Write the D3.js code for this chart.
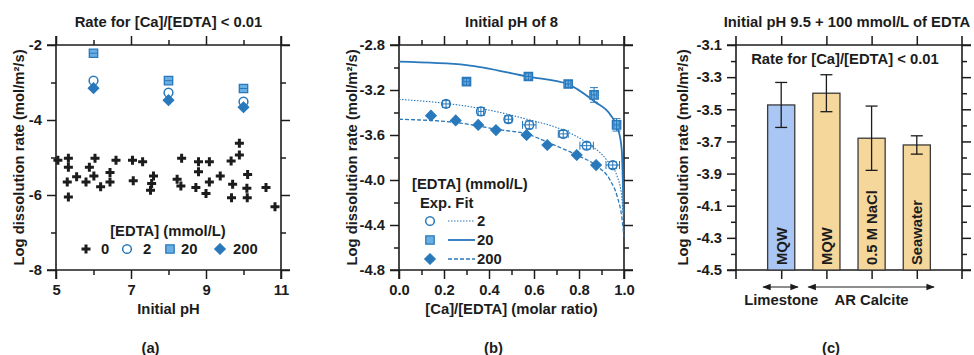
<!DOCTYPE html>
<html>
<head>
<meta charset="utf-8">
<script src="https://cdn.jsdelivr.net/npm/d3@7"></script>
<style>
body { margin: 0; background: #fff; }
text { font-family: "Liberation Sans", Arial, sans-serif; font-weight: bold; font-size: 14.8px; fill: #1c1c1c; }
</style>
</head>
<body>
<script>
var W = 974, H = 355;
var ink = "#1c1c1c";
var blue = "#2878bb";
var blueFill = "#6aaee2";

// ---- panel (a): rate vs initial pH
var phZero = [5.05, 5.33, 5.33, 5.30, 5.33, 5.55, 5.80, 5.89, 6.04, 6.01, 6.19, 6.44, 6.44, 6.60,
              7.04, 7.31, 7.06, 7.60, 7.55, 7.52, 8.35, 8.23, 8.33, 8.80, 9.09, 8.80, 8.73, 9.00,
              9.09, 9.38, 9.67, 9.89, 9.89, 9.71, 9.68, 10.11, 10.09, 10.10, 10.60, 10.84];
var rateZero = [-5.07, -5.02, -5.26, -5.65, -6.05, -5.51, -5.65, -5.26, -5.02, -5.49, -5.78, -5.40, -5.65, -5.07,
                -5.07, -5.11, -5.62, -5.49, -5.69, -5.87, -5.02, -5.58, -5.76, -5.11, -5.11, -5.38, -5.80, -5.96,
                -5.65, -5.49, -5.09, -4.93, -4.62, -5.71, -6.07, -5.45, -5.82, -6.07, -5.80, -6.31];
var phEdta = [6, 8, 10];
var rateEdta2 = [-2.95, -3.27, -3.51];
var rateEdta20 = [-2.22, -2.95, -3.16];
var rateEdta200 = [-3.15, -3.47, -3.66];
var edtaLegend = ["0", "2", "20", "200"];

// ---- panel (b): rate vs [Ca]/[EDTA] at pH 8
var ratio2 = [0.209, 0.364, 0.486, 0.579, 0.730, 0.834, 0.950];
var rate2 = [-3.324, -3.39, -3.46, -3.51, -3.59, -3.695, -3.867];
var ratio2Err = [0.015, 0.012, 0.015, 0.03, 0.022, 0.03, 0.03];
var rate2Err = [0.03, 0.035, 0.03, 0.035, 0.03, 0.03, 0.03];
var ratio20 = [0.30, 0.575, 0.752, 0.867, 0.967];
var rate20 = [-3.126, -3.08, -3.147, -3.244, -3.51];
var rate20Err = [0.03, 0.03, 0.03, 0.065, 0.055];
var ratio200 = [0.142, 0.252, 0.352, 0.431, 0.567, 0.659, 0.790, 0.876];
var rate200 = [-3.428, -3.47, -3.51, -3.556, -3.60, -3.689, -3.778, -3.867];
var fitX2 = [0, 0.204, 0.36, 0.582, 0.73, 0.834, 0.923, 0.97, 0.99, 1.0];
var fitY2 = [-3.283, -3.318, -3.363, -3.467, -3.556, -3.668, -3.822, -3.97, -4.148, -4.415];
var fitX20 = [0, 0.3, 0.575, 0.75, 0.87, 0.94, 0.975, 0.99, 0.998];
var fitY20 = [-2.948, -2.978, -3.082, -3.147, -3.304, -3.422, -3.556, -3.733, -4.30];
var fitX200 = [0, 0.256, 0.434, 0.582, 0.671, 0.79, 0.879, 0.938, 0.97, 0.99, 1.0];
var fitY200 = [-3.46, -3.49, -3.549, -3.60, -3.674, -3.778, -3.876, -4.0, -4.148, -4.326, -4.504];

// ---- panel (c): pH 9.5 + 100 mmol/L EDTA
var waterLabels = ["MQW", "MQW", "0.5 M NaCl", "Seawater"];
var solidType = ["Limestone", "AR Calcite", "AR Calcite", "AR Calcite"];
var rateC = [-3.473, -3.40, -3.68, -3.722];
var errC = [0.14, 0.115, 0.20, 0.057];
var solidNames = ["Limestone", "AR Calcite"];
var solidSpan = [[0.6, 1.37], [1.6, 4.38]];

var svg = d3.select("body").append("svg")
    .attr("width", W)
    .attr("height", H);

var defs = svg.append("defs");
defs.append("marker")
    .attr("id", "arr")
    .attr("viewBox", "0 0 10 10")
    .attr("refX", 9).attr("refY", 5)
    .attr("markerWidth", 7).attr("markerHeight", 7)
    .attr("orient", "auto-start-reverse")
    .append("path").attr("d", "M0,1L10,5L0,9z").attr("fill", ink);

// draws the four-sided frame with outward ticks
function frame(x, y, o) {
    var ext = 9;
    var xr = x.range(), yr = y.range();
    var g = svg.append("g");
    function ticks(gen, tr, vals, size, fmt) {
        var a = g.append("g").attr("transform", tr)
            .call(gen.tickValues(vals).tickSize(size).tickSizeOuter(0).tickPadding(5).tickFormat(fmt || ""));
        a.select(".domain").remove();
        a.selectAll("line").attr("stroke", ink).attr("stroke-width", 1.5);
        return a;
    }
    var bt = "translate(0," + yr[0] + ")", tt = "translate(0," + yr[1] + ")";
    var lt = "translate(" + xr[0] + ",0)", rt = "translate(" + xr[1] + ",0)";
    ticks(d3.axisBottom(x), bt, o.xMajor, 9, o.xFmt);
    ticks(d3.axisTop(x), tt, o.xMajor, 9);
    if (o.xMinor) {
        ticks(d3.axisBottom(x), bt, o.xMinor, 5);
        ticks(d3.axisTop(x), tt, o.xMinor, 5);
    }
    ticks(d3.axisLeft(y), lt, o.yMajor, 9, o.yFmt);
    ticks(d3.axisRight(y), rt, o.yMajor, 9);
    ticks(d3.axisLeft(y), lt, o.yMinor, 5);
    ticks(d3.axisRight(y), rt, o.yMinor, 5);
    var ln = [
        [xr[0] - ext, yr[0], xr[1] + ext, yr[0]],
        [xr[0] - ext, yr[1], xr[1] + ext, yr[1]],
        [xr[0], yr[0] + ext, xr[0], yr[1] - ext],
        [xr[1], yr[0] + ext, xr[1], yr[1] - ext]
    ];
    g.selectAll("line.frame").data(ln).enter().append("line")
        .attr("class", "frame")
        .attr("x1", d => d[0]).attr("y1", d => d[1])
        .attr("x2", d => d[2]).attr("y2", d => d[3])
        .attr("stroke", ink).attr("stroke-width", 1.6);
    // titles
    var cx = (xr[0] + xr[1]) / 2;
    svg.append("text").attr("x", o.titleX || cx).attr("y", 27).attr("text-anchor", "middle").text(o.title);
    svg.append("text").attr("x", cx).attr("y", 314).attr("text-anchor", "middle").text(o.xLabel);
    svg.append("text").attr("x", cx - 18).attr("y", 353).attr("text-anchor", "middle").text(o.tag);
    svg.append("text")
        .attr("transform", "translate(" + o.yLabelX + "," + ((yr[0] + yr[1]) / 2) + ") rotate(-90)")
        .attr("text-anchor", "middle")
        .attr("dy", "0.35em")
        .text("Log dissolution rate (mol/m\u00b2/s)");
}

function errorBars(g, pts) {
    var cap = 4;
    var segs = [];
    pts.forEach(function(p) {
        if (p.ex) {
            segs.push([p.x0, p.y, p.x1, p.y]);
            segs.push([p.x0, p.y - cap, p.x0, p.y + cap]);
            segs.push([p.x1, p.y - cap, p.x1, p.y + cap]);
        }
        if (p.ey) {
            segs.push([p.x, p.y0, p.x, p.y1]);
            segs.push([p.x - cap, p.y0, p.x + cap, p.y0]);
            segs.push([p.x - cap, p.y1, p.x + cap, p.y1]);
        }
    });
    g.selectAll(null).data(segs).enter().append("line")
        .attr("x1", d => d[0]).attr("y1", d => d[1])
        .attr("x2", d => d[2]).attr("y2", d => d[3])
        .attr("stroke", blue).attr("stroke-width", 1);
}

var symCross = d3.symbol().type(d3.symbolCross).size(45);
var symCircle = d3.symbol().type(d3.symbolCircle).size(60);
var symSquare = d3.symbol().type(d3.symbolSquare).size(70);
var symDiamond = d3.symbol().type(d3.symbolSquare).size(58); // rotated below

function marker(g, sym, kind, px, py) {
    var tr = "translate(" + px + "," + py + ")" + (kind == "diamond" ? " rotate(45)" : "");
    var p = g.append("path").attr("d", sym()).attr("transform", tr);
    if (kind == "cross") p.attr("fill", ink);
    if (kind == "circle") p.attr("fill", "#fff").attr("stroke", blue).attr("stroke-width", 1.5);
    if (kind == "square") p.attr("fill", blueFill).attr("stroke", blue).attr("stroke-width", 1.3);
    if (kind == "diamond") p.attr("fill", blue).attr("stroke", blue).attr("stroke-width", 1);
    return p;
}

// ================= (a)
var xa = d3.scaleLinear().domain([5, 11]).range([56, 281]);
var ya = d3.scaleLinear().domain([-8, -2]).range([270, 45]);
frame(xa, ya, {
    xMajor: [5, 7, 9, 11], xMinor: [6, 8, 10], xFmt: d3.format("d"),
    yMajor: [-2, -4, -6, -8], yMinor: [-3, -5, -7], yFmt: d => d3.format("d")(d).replace("\u2212", "-"),
    title: "Rate for [Ca]/[EDTA] < 0.01", xLabel: "Initial pH", tag: "(a)", yLabelX: 19
});
var ga = svg.append("g");
phZero.forEach(function(p, i) { marker(ga, symCross, "cross", xa(p), ya(rateZero[i])); });
phEdta.forEach(function(p, i) {
    marker(ga, symCircle, "circle", xa(p), ya(rateEdta2[i]));
    marker(ga, symSquare, "square", xa(p), ya(rateEdta20[i]));
    ga.append("line").attr("x1", xa(p) - 4).attr("x2", xa(p) + 4)
        .attr("y1", ya(rateEdta20[i])).attr("y2", ya(rateEdta20[i]))
        .attr("stroke", blue).attr("stroke-width", 1);
    marker(ga, symDiamond, "diamond", xa(p), ya(rateEdta200[i]));
});
// legend (a)
svg.append("text").attr("x", 168).attr("y", 236).attr("text-anchor", "middle").text("[EDTA] (mmol/L)");
var legA = [[86, "cross", symCross], [127, "circle", symCircle], [170, "square", symSquare], [220, "diamond", symDiamond]];
var legAText = [101, 143, 181, 233];
edtaLegend.forEach(function(t, i) {
    marker(svg, legA[i][2], legA[i][1], legA[i][0], 249);
    svg.append("text").attr("x", legAText[i]).attr("y", 254).text(t);
});

// ================= (b)
var xb = d3.scaleLinear().domain([0, 1]).range([399, 624]);
var yb = d3.scaleLinear().domain([-4.8, -2.8]).range([270, 45]);
frame(xb, yb, {
    xMajor: [0, 0.2, 0.4, 0.6, 0.8, 1.0], xMinor: [0.1, 0.3, 0.5, 0.7, 0.9], xFmt: d3.format(".1f"),
    yMajor: [-2.8, -3.2, -3.6, -4.0, -4.4, -4.8], yMinor: [-3.0, -3.4, -3.8, -4.2, -4.6],
    yFmt: d => d3.format(".1f")(d).replace("\u2212", "-"),
    title: "Initial pH of 8", xLabel: "[Ca]/[EDTA] (molar ratio)", tag: "(b)", yLabelX: 352
});
var gb = svg.append("g");
var line = d3.line().x(d => xb(d[0])).y(d => yb(d[1])).curve(d3.curveMonotoneX);
gb.append("path").attr("d", line(d3.zip(fitX2, fitY2))).attr("fill", "none")
    .attr("stroke", blue).attr("stroke-width", 1.1).attr("stroke-dasharray", "1.5,1.5");
gb.append("path").attr("d", line(d3.zip(fitX20, fitY20))).attr("fill", "none")
    .attr("stroke", blue).attr("stroke-width", 1.8);
gb.append("path").attr("d", line(d3.zip(fitX200, fitY200))).attr("fill", "none")
    .attr("stroke", blue).attr("stroke-width", 1.3).attr("stroke-dasharray", "4,2");

ratio2.forEach(function(r, i) {
    marker(gb, symCircle, "circle", xb(r), yb(rate2[i]));
    errorBars(gb, [{ x: xb(r), y: yb(rate2[i]), ex: 1, x0: xb(r - ratio2Err[i]), x1: xb(r + ratio2Err[i]),
        ey: 1, y0: yb(rate2[i] - rate2Err[i]), y1: yb(rate2[i] + rate2Err[i]) }]);
});
ratio20.forEach(function(r, i) {
    marker(gb, symSquare, "square", xb(r), yb(rate20[i]));
    errorBars(gb, [{ x: xb(r), y: yb(rate20[i]), ex: 1, x0: xb(r - 0.012), x1: xb(r + 0.012),
        ey: 1, y0: yb(rate20[i] - rate20Err[i]), y1: yb(rate20[i] + rate20Err[i]) }]);
});
ratio200.forEach(function(r, i) { marker(gb, symDiamond, "diamond", xb(r), yb(rate200[i])); });

// legend (b)
svg.append("text").attr("x", 412).attr("y", 189).text("[EDTA] (mmol/L)");
svg.append("text").attr("x", 420).attr("y", 208).text("Exp.  Fit");
var legB = [["circle", symCircle, "1.5,1.5", 1.1, "2"], ["square", symSquare, null, 1.8, "20"], ["diamond", symDiamond, "4,2", 1.3, "200"]];
legB.forEach(function(d, i) {
    var yy = 221 + i * 19;
    marker(svg, d[1], d[0], 430, yy);
    svg.append("line").attr("x1", 448).attr("x2", 475).attr("y1", yy).attr("y2", yy)
        .attr("stroke", blue).attr("stroke-width", d[3]).attr("stroke-dasharray", d[2]);
    svg.append("text").attr("x", 477).attr("y", yy + 5).text(d[4]);
});

// ================= (c)
var xc = d3.scaleLinear().domain([0, 5]).range([736, 962]);
var yc = d3.scaleLinear().domain([-4.5, -3.1]).range([270, 45]);
frame(xc, yc, {
    xMajor: [1, 2, 3, 4], xFmt: () => "",
    yMajor: [-3.1, -3.3, -3.5, -3.7, -3.9, -4.1, -4.3, -4.5], yMinor: [-3.2, -3.4, -3.6, -3.8, -4.0, -4.2, -4.4],
    yFmt: d => d3.format(".1f")(d).replace("\u2212", "-"),
    title: "Initial pH 9.5 + 100 mmol/L of EDTA", titleX: 847, xLabel: "", tag: "(c)", yLabelX: 683
});
var barColor = d3.scaleOrdinal().domain(solidNames).range(["#a9c6f4", "#f6d79b"]);
var gc = svg.append("g");
var bw = 0.6;
rateC.forEach(function(v, i) {
    var c = i + 1;
    gc.append("rect")
        .attr("x", xc(c - bw / 2)).attr("width", xc(c + bw / 2) - xc(c - bw / 2))
        .attr("y", yc(v)).attr("height", yc(-4.5) - yc(v))
        .attr("fill", barColor(solidType[i])).attr("stroke", "#3a3a3a").attr("stroke-width", 1.3);
    var e0 = yc(v - errC[i]), e1 = yc(v + errC[i]);
    gc.append("line").attr("x1", xc(c)).attr("x2", xc(c)).attr("y1", e0).attr("y2", e1).attr("stroke", ink).attr("stroke-width", 1.3);
    [e0, e1].forEach(function(e) {
        gc.append("line").attr("x1", xc(c) - 6).attr("x2", xc(c) + 6).attr("y1", e).attr("y2", e).attr("stroke", ink).attr("stroke-width", 1.3);
    });
    gc.append("text")
        .attr("transform", "translate(" + xc(c) + "," + (yc(-4.5) - 5) + ") rotate(-90)")
        .attr("dy", "0.36em")
        .text(waterLabels[i]);
});
svg.append("text").attr("x", 845).attr("y", 64).attr("text-anchor", "middle").text("Rate for [Ca]/[EDTA] < 0.01");
solidNames.forEach(function(n, i) {
    svg.append("line")
        .attr("x1", xc(solidSpan[i][0])).attr("x2", xc(solidSpan[i][1]))
        .attr("y1", 287).attr("y2", 287)
        .attr("stroke", ink).attr("stroke-width", 1.2)
        .attr("marker-start", "url(#arr)").attr("marker-end", "url(#arr)");
});
svg.append("text").attr("x", xc(1)).attr("y", 305).attr("text-anchor", "middle").text("Limestone");
svg.append("text").attr("x", xc(3)).attr("y", 305).attr("text-anchor", "middle").text("AR Calcite");
</script>
</body>
</html>
